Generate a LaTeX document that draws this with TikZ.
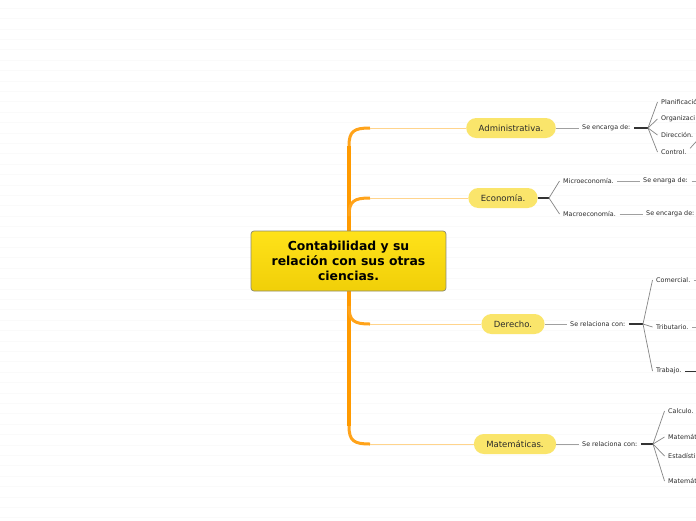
\documentclass[tikz,border=0pt]{standalone}
\usepackage{fontspec}
\setmainfont{DejaVu Sans}
\usetikzlibrary{calc}
\definecolor{trunkc}{HTML}{FF9A00}
\definecolor{trunkm}{HTML}{FFA31A}
\definecolor{branchc}{HTML}{FFD48C}
\definecolor{pillfill}{HTML}{FAE56B}
\definecolor{txt}{HTML}{2A2A2A}
\definecolor{linegray}{HTML}{A0A0A0}
\definecolor{darkline}{HTML}{333333}
\definecolor{fangray}{HTML}{858585}
\definecolor{stripe}{HTML}{FAFAFA}
\definecolor{coretop}{HTML}{FFE21A}
\definecolor{coremid}{HTML}{FFE819}
\definecolor{corebot}{HTML}{F0CF08}
\definecolor{corebd}{HTML}{8C8A6E}
\tikzset{
  pill/.style={draw=none, fill=pillfill, rounded corners=10pt, minimum height=20pt,
    inner xsep=12.5pt, inner ysep=0pt, font=\fontsize{8.5}{10}\selectfont, text=txt},
  core/.style={rectangle, rounded corners=3pt, draw=corebd, line width=0.7pt,
    top color=coretop, middle color=coremid, bottom color=corebot,
    minimum width=195pt, minimum height=60pt, align=center, inner sep=0pt,
    font=\bfseries\fontsize{12.4}{15}\selectfont, text=black},
  lbl/.style={inner xsep=3.5pt, inner ysep=1pt, anchor=west,
    font=\fontsize{6.4}{7}\selectfont, text=txt},
  graylink/.style={draw=linegray, line width=0.9pt},
  darklink/.style={draw=darkline, line width=1.2pt},
  fan/.style={draw=fangray, line width=0.7pt},
  trunkline/.style={draw=trunkc, line width=4pt},
  trunkcurve/.style={draw=trunkm, line width=3pt},
  branchline/.style={draw=branchc, line width=1pt},
}
\begin{document}
\begin{tikzpicture}[x=1pt,y=-1pt]
\useasboundingbox (0,0) rectangle (696,520);
\clip (0,0) rectangle (696,520);
\fill[white] (0,0) rectangle (696,520);
\foreach \i in {0,...,49} \draw[stripe, line width=1pt] (0,8.3+10.4*\i) -- (696,8.3+10.4*\i);

% main branch nodes
\node[pill] (adm) at (511,128) {Administrativa.};
\node[pill] (eco) at (503,198) {Economía.};
\node[pill] (der) at (513,324) {Derecho.};
\node[pill] (mat) at (515,444) {Matemáticas.};

% trunk
\coordinate (t1) at (349,146); \coordinate (k1) at (370,128);
\coordinate (t2) at (349,216); \coordinate (k2) at (370,198);
\coordinate (t3) at (349,306); \coordinate (k3) at (370,324);
\coordinate (t4) at (349,426); \coordinate (k4) at (370,444);
\draw[trunkline] (t1) -- (t4);
\draw[trunkcurve] (t1) .. controls (349,131) and (354,128) .. (k1);
\draw[trunkcurve] (t2) .. controls (349,201) and (354,198) .. (k2);
\draw[trunkcurve] (t3) .. controls (349,321) and (354,324) .. (k3);
\draw[trunkcurve] (t4) .. controls (349,441) and (354,444) .. (k4);
\draw[branchline] (k1) -- (adm.west);
\draw[branchline] (k2) -- (eco.west);
\draw[branchline] (k3) -- (der.west);
\draw[branchline] (k4) -- (mat.west);

\node[core] (core) at (348.5,261) {Contabilidad y su\\relación con sus otras\\ciencias.};

% Administrativa
\node[lbl] (se1) at (578.5,128) {Se encarga de:};
\coordinate (j1) at (648,128);
\node[lbl] (pla) at (657.5,102) {Planificació};
\node[lbl] (org) at (657.5,119) {Organizaci};
\node[lbl] (dir) at (657.5,135) {Dirección.};
\node[lbl] (ctl) at (657.5,152) {Control.};
\draw[graylink] (adm.east) -- (se1.west);
\draw[darklink] (se1.east) -- (j1);
\foreach \c in {pla,org,dir,ctl} \draw[fan] (j1) -- (\c.west);
\coordinate (o1) at (703,124);
\coordinate (o2) at (703,134);
\draw[fan] (dir.east) -- (o1);
\draw[fan] (ctl.north east) -- (o2);

% Economia
\coordinate (j2) at (549,198);
\draw[darklink] (eco.east) -- (j2);
\node[lbl] (mic) at (559.5,181) {Microeconomía.};
\node[lbl] (mac) at (559.5,214) {Macroeconomía.};
\draw[fan] (j2) -- (mic.west);
\draw[fan] (j2) -- (mac.west);
\node[lbl] (se2) at (639.5,181) {Se enarga de:};
\node[lbl] (se3) at (642.5,214) {Se encarga de:};
\draw[graylink] (mic.east) -- (se2.west);
\draw[graylink] (mac.east) -- (se3.west);
\coordinate (o3) at (705,181);
\draw[graylink] (se2.east) -- (o3);

% Derecho
\node[lbl] (se4) at (566.5,324) {Se relaciona con:};
\coordinate (j3) at (643,324);
\draw[graylink] (der.east) -- (se4.west);
\draw[darklink] (se4.east) -- (j3);
\node[lbl] (com) at (652.5,280) {Comercial.};
\node[lbl] (tri) at (652.5,327) {Tributario.};
\node[lbl] (tra) at (652.5,371) {Trabajo.};
\foreach \c in {com,tri,tra} \draw[fan] (j3) -- (\c.west);
\coordinate (o4) at (705,280);
\coordinate (o5) at (705,327);
\coordinate (o6) at (705,371);
\draw[graylink] (com.east) -- (o4);
\draw[graylink] (tri.east) -- (o5);
\draw[darkline, line width=1pt] (tra.east) -- (o6);

% Matematicas
\node[lbl] (se5) at (578.5,444) {Se relaciona con:};
\coordinate (j4) at (653,444);
\draw[graylink] (mat.east) -- (se5.west);
\draw[darklink] (se5.east) -- (j4);
\node[lbl] (cal) at (664.5,411) {Calculo.};
\node[lbl] (ma1) at (664.5,437) {Matemát};
\node[lbl] (est) at (664.5,456) {Estadísti};
\node[lbl] (ma2) at (664.5,481) {Matemát};
\foreach \c in {cal,ma1,est,ma2} \draw[fan] (j4) -- (\c.west);
\end{tikzpicture}
\end{document}
